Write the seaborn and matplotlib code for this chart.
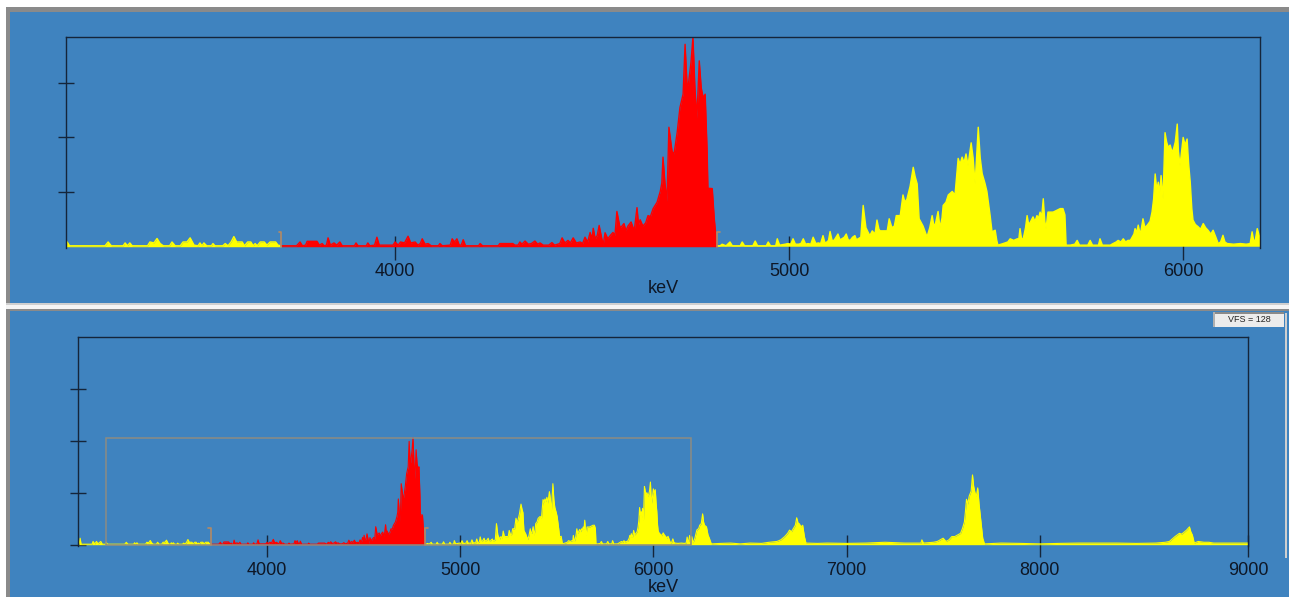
import numpy as np
import pandas as pd
import matplotlib
matplotlib.use("Agg")
import matplotlib.pyplot as plt
from matplotlib.patches import Rectangle
from matplotlib.lines import Line2D
import seaborn as sns

# ---------------- data ----------------
KEV = [3022, 3028, 3033, 3038, 3095, 3100, 3108, 3118, 3125, 3140, 3148, 3165, 3168, 3174,
       3264, 3272, 3280, 3310, 3315, 3321, 3327, 3333, 3372, 3378, 3388, 3396, 3404, 3412,
       3428, 3434, 3442, 3455, 3462, 3472, 3480, 3490, 3500, 3505, 3510, 3515, 3522, 3534,
       3538, 3543, 3563, 3569, 3576, 3584, 3591, 3598, 3606, 3612, 3618, 3626, 3634, 3640,
       3645, 3650, 3658, 3668, 3675, 3683, 3690, 3697, 3703, 3711,
       3750, 3759, 3765, 3773, 3777, 3802, 3808, 3815, 3820, 3826, 3830, 3836, 3845, 3852,
       3860, 3866, 3897, 3901, 3906, 3927, 3931, 3936, 3948, 3954, 3960, 3995, 4000, 4008,
       4014, 4024, 4033, 4040, 4051, 4058, 4064, 4069, 4076, 4084, 4092, 4110, 4114, 4120,
       4140, 4145, 4151, 4157, 4163, 4168, 4173, 4179, 4212, 4216, 4222, 4262, 4266, 4299,
       4304, 4312, 4317, 4322, 4330, 4338, 4346, 4355, 4362, 4368, 4376, 4390, 4398, 4405,
       4418, 4424, 4431, 4439, 4445, 4452, 4460, 4470, 4476, 4482, 4489, 4495, 4500, 4503,
       4508, 4513, 4518, 4528, 4533, 4540, 4546, 4553, 4558, 4563, 4571, 4576, 4581, 4586,
       4591, 4599, 4607, 4614, 4618, 4622, 4629, 4636, 4642, 4648, 4655, 4665, 4673, 4677,
       4680, 4685, 4690, 4695, 4703, 4708, 4716, 4723, 4731, 4736, 4741, 4744, 4751, 4756,
       4761, 4766, 4772, 4777, 4782, 4787, 4792, 4794, 4805, 4810, 4816, 4818,
       4825, 4830, 4840, 4850, 4856, 4876, 4881, 4887, 4908, 4914, 4920, 4942, 4947, 4953,
       4966, 4970, 4976, 4990, 4997, 5004, 5010, 5016, 5024, 5030, 5036, 5042, 5048, 5055,
       5061, 5068, 5074, 5080, 5086, 5091, 5096, 5100, 5104, 5109, 5114, 5119, 5124, 5129,
       5134, 5140, 5145, 5150, 5155, 5161, 5167, 5171, 5175, 5182, 5188, 5195, 5200, 5205,
       5211, 5218, 5223, 5228, 5231, 5249, 5254, 5261, 5267, 5272, 5282, 5289, 5294, 5299,
       5307, 5315, 5320, 5325, 5330, 5340, 5350, 5357, 5363, 5367, 5371, 5378, 5383, 5388,
       5391, 5398, 5404, 5414, 5421, 5429, 5434, 5439, 5444, 5449, 5454, 5462, 5467, 5472,
       5480, 5485, 5490, 5497, 5502, 5510, 5515, 5520, 5523, 5527, 5530, 5543, 5555, 5561,
       5570, 5579, 5583, 5586, 5590, 5594, 5600, 5604, 5608, 5612, 5619, 5624, 5629, 5633,
       5637, 5641, 5645, 5649, 5652, 5657, 5670, 5680, 5688, 5695, 5700, 5703, 5713, 5725,
       5731, 5737, 5744, 5758, 5764, 5770, 5785, 5789, 5795, 5802, 5815, 5822, 5830, 5835,
       5842, 5848, 5854, 5860, 5866, 5871, 5875, 5878, 5882, 5886, 5890, 5893, 5898, 5903,
       5909, 5916, 5921, 5925, 5929, 5933, 5937, 5941, 5944, 5949, 5954, 5958, 5962, 5967,
       5972, 5976, 5980, 5985, 5988, 5992, 5996, 6000, 6005, 6010, 6014, 6018, 6022, 6025,
       6031, 6038, 6044, 6051, 6057, 6063, 6070, 6076, 6083, 6089, 6095, 6101, 6106, 6112,
       6128, 6145, 6160, 6170, 6175, 6179, 6183, 6188, 6192, 6195, 6199, 6205, 6215, 6225,
       6235, 6240, 6248, 6255, 6260, 6265, 6275, 6283, 6290, 6300, 6350, 6400, 6450, 6500,
       6560, 6600, 6640, 6660, 6680, 6695, 6705, 6715, 6725, 6735, 6742, 6750, 6755, 6765,
       6773, 6782, 6790, 6850, 6900, 7000, 7100, 7200, 7300, 7385, 7390, 7398, 7450, 7470,
       7500, 7515, 7530, 7545, 7560, 7575, 7590, 7600, 7610, 7615, 7621, 7628, 7635, 7645,
       7652, 7658, 7665, 7672, 7679, 7686, 7695, 7705, 7714, 7800, 7900, 8000, 8100, 8200,
       8300, 8400, 8500, 8600, 8650, 8671, 8690, 8700, 8712, 8723, 8735, 8750, 8760, 8775,
       8782, 8790, 8800, 8820, 8850, 8875, 8900, 8950, 9000, 9040, 9078]

COUNTS = [0, 0.3, 4, 0.3, 0.3, 2, 0.5, 2, 0.5, 2, 0.3, 0.3, 1.5, 0.3,
          0.3, 1.5, 0.3, 0.3, 1.2, 0.3, 1.2, 0.3, 0.3, 1.5, 1.2, 2.6, 1.0, 0.3,
          0.3, 1.5, 0.3, 0.3, 1.5, 1.5, 2.8, 0.5, 0.3, 1.2, 0.3, 1.2, 0.3, 0.3,
          1.0, 0.3, 0.3, 1.0, 0.3, 1.5, 3.2, 1.5, 1.5, 1.5, 0.3, 1.5, 1.5, 0.3,
          1.0, 0.3, 1.5, 1.5, 0.5, 1.5, 1.5, 1.5, 0.5, 0.3,
          0.3, 1.5, 0.3, 0.5, 1.7, 1.7, 0.5, 1.0, 0.3, 0.5, 2.8, 0.5, 1.2, 0.5,
          1.5, 0.3, 0.3, 1.2, 0.3, 0.3, 1.2, 0.3, 0.5, 3.0, 0.5, 0.5, 1.5, 0.5,
          1.5, 1.2, 3.3, 1.2, 1.5, 0.5, 1.0, 2.5, 0.8, 1.0, 0.3, 0.3, 1.0, 0.3,
          0.5, 2.5, 1.5, 2.5, 0.5, 0.5, 2.2, 0.3, 0.3, 1.0, 0.3, 0.3, 1.0, 1.0,
          0.5, 0.5, 1.5, 0.8, 1.8, 0.8, 1.0, 1.8, 0.8, 1.2, 0.5, 0.5, 1.3, 0.5,
          1.0, 2.8, 1.2, 2.0, 1.2, 2.8, 1.2, 1.5, 1.0, 3.0, 1.5, 4.5, 2.5, 5.8,
          2.5, 3.5, 6.7, 0.5, 4.4, 2.5, 3.5, 4.5, 3.5, 11.1, 6.0, 6.5, 7.3, 5.0,
          6.5, 7.8, 5.0, 12.3, 7.0, 8.5, 6.5, 7.5, 9.8, 9.5, 12.0, 14.0, 17.4, 20.0,
          28.2, 20.0, 14.2, 37.6, 30.0, 29.2, 36.0, 43.8, 48.0, 63.7, 51.0, 50.7, 58.0, 66.0,
          50.0, 40.4, 58.5, 50.0, 46.9, 48.0, 30.0, 18.4, 18.3, 9.0, 1.0, 0.3,
          0.3, 0.8, 0.3, 1.5, 0.3, 0.3, 1.5, 0.3, 0.3, 1.8, 0.3, 0.3, 1.5, 0.3,
          0.3, 2.5, 0.5, 0.8, 1.0, 0.8, 2.5, 0.8, 0.8, 1.0, 2.5, 0.8, 1.0, 0.8,
          3.0, 1.0, 1.2, 1.0, 3.5, 1.2, 1.5, 2.0, 4.8, 2.0, 2.0, 3.0, 4.0, 2.2,
          2.5, 3.0, 4.0, 2.2, 2.0, 3.0, 3.5, 2.2, 2.5, 3.0, 13.0, 6.0, 4.7, 3.5,
          5.0, 4.0, 8.4, 5.5, 5.0, 5.0, 8.8, 6.0, 6.5, 9.8, 9.8, 16.3, 14.0, 15.0,
          19.0, 25.0, 22.0, 19.8, 8.8, 6.5, 3.1, 6.0, 9.8, 7.0, 7.0, 11.1, 6.0, 9.0,
          13.0, 14.0, 16.3, 17.4, 16.3, 27.8, 26.0, 28.2, 26.5, 29.2, 25.6, 32.7, 28.0, 19.8,
          37.6, 28.0, 23.0, 20.0, 17.4, 10.0, 4.7, 5.0, 5.2, 2.0, 0.5, 1.0, 1.5, 2.5,
          2.0, 2.5, 2.5, 5.7, 2.5, 2.5, 6.0, 9.8, 7.0, 7.7, 9.4, 8.0, 9.8, 9.0,
          10.9, 9.5, 15.1, 8.0, 5.7, 10.9, 10.9, 11.5, 12.0, 12.0, 10.0, 0.5, 0.5, 0.8,
          2.0, 0.5, 0.5, 0.5, 2.0, 0.5, 0.5, 2.5, 0.5, 0.5, 0.5, 1.0, 1.5, 2.0,
          1.5, 2.5, 1.5, 2.0, 2.0, 3.1, 4.0, 5.7, 4.5, 6.8, 4.5, 5.0, 8.8, 6.0,
          6.8, 8.0, 10.9, 15.0, 22.9, 18.0, 20.3, 17.0, 22.4, 15.1, 35.9, 33.0, 31.3, 32.0,
          29.7, 31.0, 33.0, 38.6, 30.0, 25.6, 30.0, 34.4, 32.0, 33.9, 26.0, 20.3, 12.0, 8.4,
          7.0, 6.3, 5.5, 7.3, 6.0, 5.2, 4.0, 5.2, 3.0, 1.0, 1.5, 3.6, 1.5, 1.0,
          0.8, 1.0, 0.8, 1.0, 4.7, 2.0, 2.0, 5.7, 4.0, 2.5, 5.0, 1.0, 4.0, 9.0,
          10.0, 12.0, 13.0, 19.0, 14.0, 12.0, 11.0, 6.0, 4.0, 0.5, 0.8, 1.0, 0.5, 1.0,
          0.8, 1.5, 2.0, 3.0, 5.0, 7.0, 9.0, 8.0, 10.0, 12.0, 16.6, 13.0, 13.0, 11.0,
          12.0, 5.0, 1.0, 0.8, 1.0, 0.8, 1.0, 1.5, 1.0, 1.0, 3.0, 1.0, 1.5, 2.0,
          4.0, 2.0, 3.0, 5.0, 5.0, 6.0, 7.0, 10.0, 14.0, 20.0, 28.0, 25.0, 30.0, 33.0,
          43.0, 36.0, 32.0, 30.0, 35.0, 25.0, 15.0, 4.0, 0.5, 1.0, 0.8, 0.5, 0.8, 1.0,
          1.0, 1.0, 0.8, 1.0, 1.5, 2.0, 4.0, 5.0, 6.0, 7.0, 6.5, 8.0, 9.0, 11.0,
          8.0, 6.0, 1.0, 2.0, 1.5, 1.5, 1.0, 1.0, 1.0, 1.0, 1.0]

ROI_START, ROI_END = 3711, 4818          # keV, region of interest (red)
TOP_XLIM = (3165, 6195)                  # expanded view
TOP_FULL = 66                            # top panel full scale (counts)
BOT_XLIM = (3022, 9078)                  # full spectrum (right end labelled 9000 by the instrument)
BOT_FULL = 128                           # VFS = 128
TOP_XTICKS = [4000, 5000, 6000]
TOP_XTICK_LABELS = ["4000", "5000", "6000"]
BOT_XTICKS = [4000, 5000, 6000, 7000, 8000, 9078]
BOT_XTICK_LABELS = ["4000", "5000", "6000", "7000", "8000", "9000"]
TOP_YTICKS = [17.2, 34.4, 51.6]
BOT_YTICKS = [0, 32, 64, 96]
VFS_TEXT = "VFS = 128"
XLABEL = "keV"

# ---------------- style ----------------
W, H = 1289, 597
sns.set_theme(style="white")
plt.rcParams["font.family"] = ["Liberation Sans", "DejaVu Sans"]

BLUE = "#3F83BF"
YELLOW = "#FFFF00"
RED = "#FF0000"
DARK = "#15253a"
TXT = "#0e1726"
ROI_COL = "#B48A64"
RECT_COL = "#8C8C82"

df = pd.DataFrame({"keV": KEV, "counts": COUNTS}).sort_values("keV").reset_index(drop=True)
seg_left = df[df.keV <= ROI_START]
seg_roi = df[(df.keV >= ROI_START) & (df.keV <= ROI_END)]
seg_right = df[df.keV >= ROI_END]

fig = plt.figure(figsize=(W / 100, H / 100), dpi=100, facecolor="white")


def fig_rect(x0, y0, x1, y1, color, **kw):
    r = Rectangle((x0 / W, 1 - y1 / H), (x1 - x0) / W, (y1 - y0) / H,
                  transform=fig.transFigure, facecolor=color, edgecolor="none", **kw)
    fig.add_artist(r)
    return r


# frame / background panels
fig_rect(6, 7, W, H, "#8a8a8a", zorder=0)
fig_rect(10, 12, W, 303, BLUE, zorder=0)
fig_rect(6, 303, W, 305, "#cfcfcf", zorder=0)
fig_rect(6, 305, W, 309, "#f4f4f4", zorder=0)
fig_rect(6, 309, W, 311, "#8a8a8a", zorder=0)
fig_rect(10, 311, W, H, BLUE, zorder=0)


def draw_spectrum(ax, lw):
    for seg, col in ((seg_left, YELLOW), (seg_roi, RED), (seg_right, YELLOW)):
        ax.fill_between(seg.keV, 0, seg.counts, color=col, linewidth=0, zorder=1.5)
        sns.lineplot(data=seg, x="keV", y="counts", ax=ax, color=col,
                     linewidth=lw, estimator=None, zorder=1.6)


def style_axes(ax, xlim, ylim, xticks, xlabels, yticks, xlen, ylen, pad):
    ax.set_facecolor(BLUE)
    ax.set_xlim(*xlim)
    ax.set_ylim(*ylim)
    for s in ("left", "top", "right"):
        ax.spines[s].set_color(DARK)
        ax.spines[s].set_linewidth(1.0)
        ax.spines[s].set_visible(True)
    ax.spines["bottom"].set_visible(False)
    ax.set_xticks(xticks)
    ax.set_xticklabels(xlabels)
    ax.set_yticks(yticks)
    ax.xaxis.set_ticks_position("bottom")
    ax.yaxis.set_ticks_position("left")
    ax.tick_params(axis="x", direction="inout", length=xlen, width=1.0, color=DARK,
                   labelsize=13, labelcolor=TXT, pad=pad)
    ax.tick_params(axis="y", direction="inout", length=ylen, width=1.0, color=DARK,
                   labelleft=False)
    ax.set_ylabel("")
    ax.set_xlabel(XLABEL, fontsize=13, color=TXT, labelpad=0)
    ax.grid(False)


def roi_markers(ax, h, hook):
    ax.add_line(Line2D([ROI_START - hook, ROI_START, ROI_START], [h, h, 0],
                       color=ROI_COL, lw=1.2, zorder=3))
    ax.add_line(Line2D([ROI_END + hook, ROI_END, ROI_END], [h, h, 0],
                       color=ROI_COL, lw=1.2, zorder=3))


# ---------------- top panel ----------------
ax1 = fig.add_axes([66 / W, 1 - 248 / H, 1194 / W, 211 / H])
draw_spectrum(ax1, 1.0)
style_axes(ax1, TOP_XLIM, (-0.4, TOP_FULL), TOP_XTICKS, TOP_XTICK_LABELS,
           TOP_YTICKS, 17, 11.5, 2)
roi_markers(ax1, 4.7, 6)

# ---------------- bottom panel ----------------
ax2 = fig.add_axes([78 / W, 1 - 546 / H, 1170 / W, 209 / H])
draw_spectrum(ax2, 0.8)
style_axes(ax2, BOT_XLIM, (-0.8, BOT_FULL), BOT_XTICKS, BOT_XTICK_LABELS,
           BOT_YTICKS, 16, 12, 3.5)
roi_markers(ax2, 10, 14)
ax2.add_patch(Rectangle((TOP_XLIM[0], 0), TOP_XLIM[1] - TOP_XLIM[0], TOP_FULL,
                        fill=False, edgecolor=RECT_COL, linewidth=1.1, zorder=2.5))

# VFS indicator box + right edge line
fig_rect(1213, 312, 1284, 327, "#ececec", zorder=5)
fig_rect(1213, 312, 1284, 314, "#8a8a8a", zorder=5)
fig_rect(1213, 312, 1215, 327, "#b0b0b0", zorder=5)
fig.text(1249 / W, 1 - 320 / H, VFS_TEXT, ha="center", va="center",
         fontsize=6.5, color="#222222", zorder=6)
fig_rect(1285, 313, 1287, 558, "#cfcfcf", zorder=5)

fig.savefig("out.png", dpi=100, facecolor="white")
